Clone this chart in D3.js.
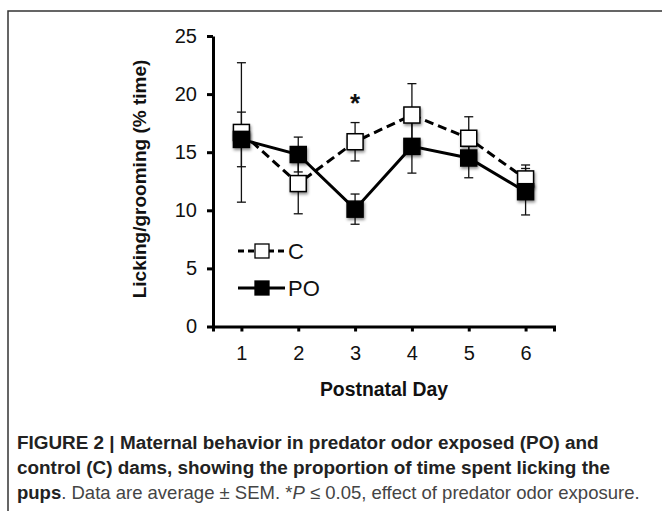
<!DOCTYPE html>
<html>
<head>
<meta charset="utf-8">
<script src="https://cdn.jsdelivr.net/npm/d3@7"></script>
<style>
body { margin: 0; background: #fff; }
svg { display: block; font-family: "Liberation Sans", Arial, sans-serif; }
.axis path, .axis line { stroke: #000; stroke-width: 3; }
.axis text { font-size: 20px; fill: #111; font-family: "Liberation Sans", Arial, sans-serif; }
.caption { fill: #222; }
</style>
</head>
<body>
<svg id="chart" width="662" height="511"></svg>
<script>
// postnatal days
var days = [1, 2, 3, 4, 5, 6];
// control (C)
var cMean = [16.7, 12.3, 15.9, 18.2, 16.2, 12.7];
var cSem = [6.0, 2.6, 1.65, 2.7, 1.85, 1.2];
// predator odor (PO)
var poMean = [16.1, 14.8, 10.1, 15.5, 14.5, 11.6];
var poSem = [2.35, 1.5, 1.3, 2.3, 1.7, 2.0];
var yTicks = [0, 5, 10, 15, 20, 25];
var starDay = 3;
var starValue = 19.6;

var svg = d3.select("#chart");

// frame
svg.append("path")
	.attr("d", "M8,511 L8,11 L662,11")
	.attr("fill", "none")
	.attr("stroke", "#333")
	.attr("stroke-width", 1.5);

var defs = svg.append("defs");
var f = defs.append("filter").attr("id", "shadow")
	.attr("x", "-50%").attr("y", "-50%").attr("width", "200%").attr("height", "200%");
f.append("feDropShadow")
	.attr("dx", 1).attr("dy", 2).attr("stdDeviation", 1.5)
	.attr("flood-color", "#000").attr("flood-opacity", 0.45);

var x = d3.scaleLinear().domain([0.5, 6.5]).range([213, 554]);
var y = d3.scaleLinear().domain([0, 25]).range([326.5, 36]);

// axes
var xAxis = d3.axisBottom(x)
	.tickValues(days)
	.tickFormat(d3.format("d"))
	.tickSizeInner(5)
	.tickSizeOuter(5)
	.tickPadding(14);
svg.append("g")
	.attr("class", "axis")
	.attr("transform", "translate(0," + y(0) + ")")
	.call(xAxis);

var yAxis = d3.axisLeft(y)
	.tickValues(yTicks)
	.tickSizeInner(6)
	.tickSizeOuter(0)
	.tickPadding(10);
svg.append("g")
	.attr("class", "axis")
	.attr("transform", "translate(" + x(0.5) + ",0)")
	.call(yAxis);

// axis titles
svg.append("text")
	.attr("transform", "translate(146,179) rotate(-90)")
	.attr("text-anchor", "middle")
	.attr("font-size", 19)
	.attr("font-weight", "bold")
	.attr("fill", "#111")
	.text("Licking/grooming (% time)");

svg.append("text")
	.attr("x", 384)
	.attr("y", 396)
	.attr("text-anchor", "middle")
	.attr("font-size", 19.4)
	.attr("font-weight", "bold")
	.attr("fill", "#111")
	.text("Postnatal Day");

function series(mean, sem) {
	return days.map(function (d, i) {
		return {day: d, mean: mean[i], sem: sem[i]};
	});
}
var cData = series(cMean, cSem);
var poData = series(poMean, poSem);

var line = d3.line()
	.x(function (d) { return x(d.day); })
	.y(function (d) { return y(d.mean); });

function drawErrors(data) {
	var g = svg.append("g").attr("stroke", "#111").attr("stroke-width", 1.3);
	data.forEach(function (d) {
		var cx = x(d.day);
		var top = y(d.mean + d.sem);
		var bot = y(d.mean - d.sem);
		g.append("line").attr("x1", cx).attr("x2", cx).attr("y1", top).attr("y2", bot);
		g.append("line").attr("x1", cx - 4.5).attr("x2", cx + 4.5).attr("y1", top).attr("y2", top);
		g.append("line").attr("x1", cx - 4.5).attr("x2", cx + 4.5).attr("y1", bot).attr("y2", bot);
	});
}

drawErrors(cData);
drawErrors(poData);

svg.append("path")
	.datum(cData)
	.attr("fill", "none")
	.attr("stroke", "#000")
	.attr("stroke-width", 3)
	.attr("stroke-dasharray", "9,5")
	.attr("d", line);

svg.append("path")
	.datum(poData)
	.attr("fill", "none")
	.attr("stroke", "#000")
	.attr("stroke-width", 3)
	.attr("d", line);

var size = 16;
svg.append("g").selectAll("rect")
	.data(cData)
	.enter().append("rect")
	.attr("x", function (d) { return x(d.day) - size / 2; })
	.attr("y", function (d) { return y(d.mean) - size / 2; })
	.attr("width", size)
	.attr("height", size)
	.attr("fill", "#fff")
	.attr("stroke", "#000")
	.attr("stroke-width", 1.5)
	.attr("filter", "url(#shadow)");

svg.append("g").selectAll("rect")
	.data(poData)
	.enter().append("rect")
	.attr("x", function (d) { return x(d.day) - size / 2; })
	.attr("y", function (d) { return y(d.mean) - size / 2; })
	.attr("width", size)
	.attr("height", size)
	.attr("fill", "#000")
	.attr("stroke", "#000")
	.attr("stroke-width", 1.5)
	.attr("filter", "url(#shadow)");

// significance mark
svg.append("text")
	.attr("x", x(starDay))
	.attr("y", y(starValue) + 13)
	.attr("text-anchor", "middle")
	.attr("font-size", 26)
	.attr("font-weight", "bold")
	.attr("fill", "#111")
	.text("*");

// legend
var legend = [
	{label: "C", dash: "6,4", fill: "#fff", y: 251},
	{label: "PO", dash: null, fill: "#000", y: 288}
];
legend.forEach(function (l) {
	svg.append("line")
		.attr("x1", 238).attr("x2", 285)
		.attr("y1", l.y).attr("y2", l.y)
		.attr("stroke", "#000")
		.attr("stroke-width", 3)
		.attr("stroke-dasharray", l.dash);
	svg.append("rect")
		.attr("x", 262 - 7).attr("y", l.y - 7)
		.attr("width", 14).attr("height", 14)
		.attr("fill", l.fill)
		.attr("stroke", "#000")
		.attr("stroke-width", 1.3);
	svg.append("text")
		.attr("x", 288).attr("y", l.y + 8)
		.attr("font-size", 22)
		.attr("fill", "#111")
		.text(l.label);
});

// caption
var cap = svg.append("g").attr("class", "caption");
cap.append("text").attr("x", 17).attr("y", 449)
	.attr("font-size", 18.9)
	.attr("font-weight", "bold")
	.text("FIGURE 2 | Maternal behavior in predator odor exposed (PO) and");
cap.append("text").attr("x", 17).attr("y", 474)
	.attr("font-size", 18.9)
	.attr("font-weight", "bold")
	.text("control (C) dams, showing the proportion of time spent licking the");
var l3 = cap.append("text").attr("x", 17).attr("y", 499).attr("font-size", 18.5);
l3.append("tspan").attr("font-weight", "bold").text("pups");
l3.append("tspan").attr("fill", "#444").text(". Data are average \u00B1 SEM. *");
l3.append("tspan").attr("fill", "#444").attr("font-style", "italic").text("P");
l3.append("tspan").attr("fill", "#444").text(" \u2264 0.05, effect of predator odor exposure.");
</script>
</body>
</html>
